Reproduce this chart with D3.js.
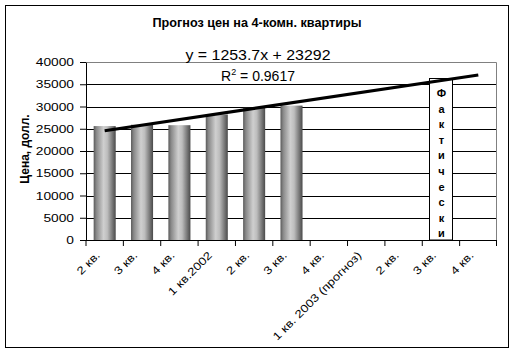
<!DOCTYPE html>
<html>
<head>
<meta charset="utf-8">
<script src="https://cdn.jsdelivr.net/npm/d3@7"></script>
<style>
  body { margin: 0; background: #fff; }
  text { font-family: "Liberation Sans", Arial, sans-serif; }
  .xlab { -webkit-font-smoothing: antialiased; }
</style>
</head>
<body>
<div id="chart"></div>
<script>
// Chart data
const quarters = ["2 кв.", "3 кв.", "4 кв.", "1 кв.2002", "2 кв.", "3 кв.", "4 кв.",
                  "1 кв. 2003 (прогноз)", "2 кв.", "3 кв.", "4 кв."];
const prices = [25600, 25900, 25800, 28200, 29700, 30200];
const yTicks = [0, 5000, 10000, 15000, 20000, 25000, 30000, 35000, 40000];
// Trend line coefficients, as printed on the chart
const trendSlope = 1253.7;
const trendIntercept = 23292;
const noteText = "Фактически";
const noteIndex = 9;

const W = 514, H = 355;
const margin = {top: 62, right: 17, left: 86},
      width = W - margin.left - margin.right,
      plotH = 240 - margin.top;

const svg = d3.select("#chart").append("svg")
    .attr("width", W).attr("height", H);

// Outer frame
svg.append("rect")
    .attr("x", 5.5).attr("y", 5.5)
    .attr("width", 503).attr("height", 342)
    .attr("fill", "#fff").attr("stroke", "#000");

const defs = svg.append("defs");
const grad = defs.append("linearGradient").attr("id", "cyl")
    .attr("x1", "0%").attr("x2", "100%").attr("y1", "0%").attr("y2", "0%");
[["0%", "#5a5a5a"], ["12%", "#888"], ["45%", "#cfcfcf"], ["62%", "#bdbdbd"], ["100%", "#4a4a4a"]]
    .forEach(([o, c]) => grad.append("stop").attr("offset", o).attr("stop-color", c));

// stretch text horizontally (Excel draws fonts wider)
function stretch(sel, k) {
    sel.each(function() {
        const w = this.getComputedTextLength();
        d3.select(this).attr("textLength", w * k).attr("lengthAdjust", "spacingAndGlyphs");
    });
}
function fitWidth(sel, w) {
    sel.attr("textLength", w).attr("lengthAdjust", "spacingAndGlyphs");
}

const g = svg.append("g").attr("transform", `translate(${margin.left},${margin.top})`);

const x = d3.scaleBand()
    .domain(quarters.map((d, i) => i))
    .range([0, width])
    .padding(0);

const y = d3.scaleLinear()
    .domain([0, 40000])
    .range([plotH, 0]);

// Gridlines
g.selectAll(".grid")
    .data(yTicks.filter(d => d > 0 && d < 40000))
    .enter().append("line")
    .attr("x1", 0).attr("x2", width)
    .attr("y1", d => Math.round(y(d)) + 0.5).attr("y2", d => Math.round(y(d)) + 0.5)
    .attr("stroke", "#000");

// Plot border (top and right, grey)
g.append("path")
    .attr("d", `M0.5,0.5H${width - 0.5}V${plotH}`)
    .attr("fill", "none").attr("stroke", "#808080");

// Bars
const bw = x.bandwidth() * 0.59;
g.selectAll(".bar")
    .data(prices)
    .enter().append("rect")
    .attr("x", (d, i) => x(i) + (x.bandwidth() - bw) / 2)
    .attr("y", d => y(d))
    .attr("width", bw)
    .attr("height", d => plotH - y(d))
    .attr("fill", "url(#cyl)");

// Text box "Фактически"
const boxX = x(noteIndex) + x.bandwidth() / 2;
g.append("rect")
    .attr("x", Math.round(boxX - 11.5) + 0.5).attr("y", 16.5)
    .attr("width", 23).attr("height", plotH - 16.5)
    .attr("fill", "#fff").attr("stroke", "#000");
const note = g.append("text")
    .attr("text-anchor", "middle")
    .attr("font-size", 11).attr("font-weight", "bold");
noteText.split("").forEach((ch, i) => {
    note.append("tspan")
        .attr("x", boxX + 0.5)
        .attr("y", 35 + i * 15.6)
        .text(ch);
});

// Axes
const yAxis = g.append("g")
    .call(d3.axisLeft(y).tickValues(yTicks).tickSize(6).tickSizeOuter(0).tickPadding(6).tickFormat(d3.format("d")));
yAxis.select(".domain").attr("stroke", "#000");
yAxis.selectAll("line").attr("stroke", "#000");
yAxis.selectAll("text").attr("font-size", 11).attr("fill", "#000")
    .attr("font-family", "Liberation Sans, Arial, sans-serif").call(stretch, 1.25);

const xAxis = g.append("g")
    .attr("transform", `translate(0,${plotH})`)
    .call(d3.axisBottom(x).tickSize(6).tickSizeOuter(0).tickFormat(i => quarters[i]));
xAxis.select(".domain").remove();
g.append("line")
    .attr("x1", 0).attr("x2", width)
    .attr("y1", plotH + 0.5).attr("y2", plotH + 0.5)
    .attr("stroke", "#000");
// ticks sit on band boundaries, like Excel
xAxis.selectAll(".tick line")
    .attr("x1", -x.bandwidth() / 2).attr("x2", -x.bandwidth() / 2)
    .attr("stroke", "#000");
xAxis.append("line")
    .attr("x1", width - 0.5).attr("x2", width - 0.5)
    .attr("y1", 0).attr("y2", 6).attr("stroke", "#000");
xAxis.selectAll(".tick text")
    .attr("class", "xlab")
    .attr("font-size", 11).attr("fill", "#000")
    .attr("font-family", "Liberation Sans, Arial, sans-serif")
    .attr("text-anchor", "end")
    .attr("dy", 0).attr("y", 0)
    .attr("transform", "translate(-4,16) rotate(-45)")
    .call(stretch, 1.2);

// Trend line
const trend = d3.line()
    .x(i => x(i) + x.bandwidth() / 2)
    .y(i => y(trendSlope * (i + 1) + trendIntercept));
g.append("path")
    .datum([0, quarters.length - 1])
    .attr("d", trend)
    .attr("fill", "none").attr("stroke", "#000").attr("stroke-width", 3.2);

// Title
svg.append("text")
    .attr("x", 257).attr("y", 27)
    .attr("text-anchor", "middle")
    .attr("font-size", 12).attr("font-weight", "bold")
    .text("Прогноз цен на 4-комн. квартиры")
    .call(fitWidth, 209);

// Trend equation
svg.append("text")
    .attr("x", 258).attr("y", 60)
    .attr("text-anchor", "middle")
    .attr("font-size", 14)
    .text(`y = ${trendSlope}x + ${trendIntercept}`)
    .call(fitWidth, 145);

const r2 = svg.append("text")
    .attr("x", 258).attr("y", 81)
    .attr("text-anchor", "middle")
    .attr("font-size", 14);
r2.append("tspan").text("R");
r2.append("tspan").attr("font-size", 9).attr("dy", -6).text("2");
r2.append("tspan").attr("dy", 6).text(" = 0.9617");

// Y axis label
svg.append("text")
    .attr("transform", `translate(29,149) rotate(-90)`)
    .attr("text-anchor", "middle")
    .attr("font-size", 12).attr("font-weight", "bold")
    .text("Цена, долл.");
</script>
</body>
</html>
